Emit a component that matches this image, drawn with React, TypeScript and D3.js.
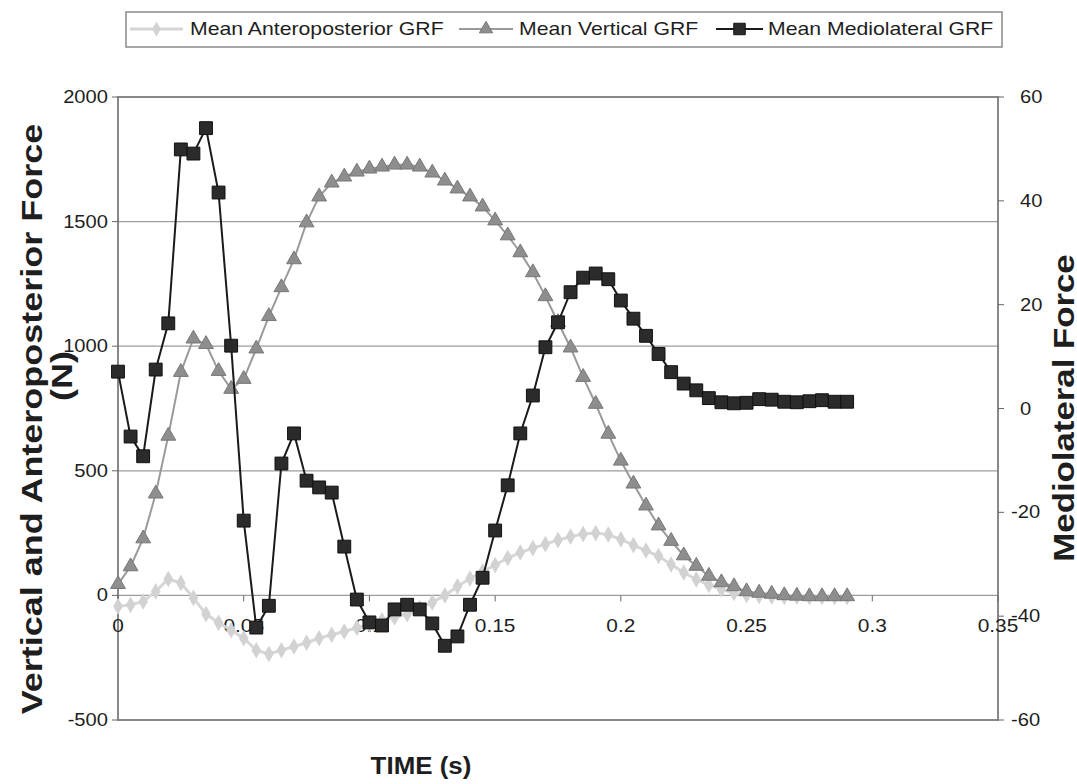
import React from 'react';
import * as d3 from 'd3';

// time samples (s)
const timeS = [
  0, 0.005, 0.01, 0.015, 0.02, 0.025, 0.03, 0.035, 0.04, 0.045,
  0.05, 0.055, 0.06, 0.065, 0.07, 0.075, 0.08, 0.085, 0.09, 0.095,
  0.1, 0.105, 0.11, 0.115, 0.12, 0.125, 0.13, 0.135, 0.14, 0.145,
  0.15, 0.155, 0.16, 0.165, 0.17, 0.175, 0.18, 0.185, 0.19, 0.195,
  0.2, 0.205, 0.21, 0.215, 0.22, 0.225, 0.23, 0.235, 0.24, 0.245,
  0.25, 0.255, 0.26, 0.265, 0.27, 0.275, 0.28, 0.285, 0.29,
];

// Mean Anteroposterior GRF (N), left axis
const anteroposterior = [
  -44, -38, -24, 16, 66, 50, -10, -75, -110, -140,
  -172, -220, -235, -220, -205, -190, -172, -158, -145, -130,
  -115, -100, -88, -75, -50, -28, 0, 36, 68, 96,
  122, 150, 172, 190, 206, 222, 236, 246, 250, 244,
  225, 202, 180, 158, 124, 92, 64, 42, 24, 10,
  2, -2, -4, -5, -5, -6, -6, -6, -6,
];

// Mean Vertical GRF (N), left axis
const vertical = [
  45, 116, 228, 408, 640, 896, 1030, 1008, 900, 828,
  868, 990, 1120, 1236, 1348, 1496, 1600, 1656, 1680, 1700,
  1712, 1720, 1728, 1728, 1720, 1696, 1664, 1632, 1600, 1560,
  1504, 1444, 1376, 1296, 1200, 1096, 994, 876, 768, 648,
  540, 448, 360, 280, 218, 160, 118, 78, 52, 36,
  16, 10, 6, 0, -2, -4, -4, -4, -4,
];

// Mean Mediolateral GRF, right axis
const mediolateral = [
  7.1, -5.4, -9.2, 7.5, 16.4, 49.9, 49.1, 54, 41.6, 12.1,
  -21.6, -42.2, -38, -10.6, -4.8, -13.9, -15.2, -16.2, -26.6, -36.8,
  -41.2, -41.8, -38.7, -37.8, -38.7, -41.4, -45.7, -43.9, -37.8, -32.6,
  -23.5, -14.8, -4.8, 2.5, 11.8, 16.6, 22.4, 25.2, 26, 24.9,
  20.8, 17.3, 14, 10.5, 7, 4.8, 3.5, 2, 1.2, 1,
  1.1, 1.8, 1.7, 1.3, 1.2, 1.4, 1.6, 1.3, 1.3,
];

const xTicks = [0, 0.05, 0.1, 0.15, 0.2, 0.25, 0.3, 0.35];
const xTickLabels = ['0', '0.05', '0.1', '0.15', '0.2', '0.25', '0.3', '0.35'];
const leftTicks = [-500, 0, 500, 1000, 1500, 2000];
const rightTicks = [-60, -40, -20, 0, 20, 40, 60];

const seriesNames = ['Mean Anteroposterior GRF', 'Mean Vertical GRF', 'Mean Mediolateral GRF'];

const W = 1077;
const H = 784;
const FONT = '"Liberation Sans", Arial, sans-serif';
const INK = '#1e1e1e';

const plot = { left: 118, right: 998, top: 97, bottom: 720 };

const x = d3.scaleLinear().domain([0, 0.35]).range([plot.left, plot.right]);
const yL = d3.scaleLinear().domain([-500, 2000]).range([plot.bottom, plot.top]);
const yR = d3.scaleLinear().domain([-60, 60]).range([plot.bottom, plot.top]);

const styles = [
  { line: '#d6d6d6', fill: '#d2d2d2', stroke: 'none', width: 3, sym: d3.symbolDiamond, size: 80 },
  { line: '#9a9a9a', fill: '#8e8e8e', stroke: '#777', width: 2, sym: d3.symbolTriangle, size: 95 },
  { line: '#1a1a1a', fill: '#2b2b2b', stroke: '#111', width: 2, sym: d3.symbolSquare, size: 165 },
];

// text that is a little wider than the font (the source chart's type runs wide)
function T({ x, y, size, sx = 1, anchor = 'start', rot = 0, bold = false, children }) {
  return (
    <text transform={`translate(${x},${y}) rotate(${rot}) scale(${sx},1)`} textAnchor={anchor}
      fontSize={size} fontWeight={bold ? 'bold' : 'normal'} fill={INK}>
      {children}
    </text>
  );
}

function Series({ values, scale, idx }) {
  const st = styles[idx];
  const line = d3.line<number>()
    .x((_, i) => x(timeS[i]))
    .y(d => scale(d));
  const sym = d3.symbol().type(st.sym).size(st.size)();
  return (
    <g>
      <path d={line(values) || ''} fill="none" stroke={st.line} strokeWidth={st.width} />
      {values.map((v, i) => (
        <path key={i} d={sym || ''} transform={`translate(${x(timeS[i])},${scale(v)})`}
          fill={st.fill} stroke={st.stroke} strokeWidth={1} />
      ))}
    </g>
  );
}

function LegendItem({ idx, x0, x1, tx, label }) {
  const st = styles[idx];
  const sym = d3.symbol().type(st.sym).size(st.size * 0.8)();
  const cy = 29;
  return (
    <g>
      <line x1={x0} x2={x1} y1={cy} y2={cy} stroke={st.line} strokeWidth={st.width} />
      <path d={sym || ''} transform={`translate(${(x0 + x1) / 2},${cy})`} fill={st.fill} stroke={st.stroke} />
      <T x={tx} y={cy + 6} size={18} sx={1.18}>{label}</T>
    </g>
  );
}

export default function App() {
  return (
    <svg width={W} height={H} style={{ position: 'absolute', left: 0, top: 0, background: '#fff' }}
      fontFamily={FONT}>
      <rect x={0} y={0} width={W} height={H} fill="#fff" />

      {/* legend */}
      <rect x={126} y={12} width={876} height={35} fill="#fff" stroke="#8a8a8a" strokeWidth={1.5} />
      <LegendItem idx={0} x0={130} x1={183} tx={190} label={seriesNames[0]} />
      <LegendItem idx={1} x0={459} x1={513} tx={519} label={seriesNames[1]} />
      <LegendItem idx={2} x0={716} x1={763} tx={768} label={seriesNames[2]} />

      {/* gridlines */}
      {leftTicks.filter(t => t > -500 && t < 2000).map(t => (
        <line key={t} x1={plot.left} x2={plot.right} y1={yL(t)} y2={yL(t)} stroke="#9c9c9c" strokeWidth={1.2} />
      ))}

      {/* plot frame */}
      <rect x={plot.left} y={plot.top} width={plot.right - plot.left} height={plot.bottom - plot.top}
        fill="none" stroke="#7c7c7c" strokeWidth={1.8} />

      {/* left axis */}
      {leftTicks.map(t => (
        <g key={t}>
          <line x1={plot.left - 6} x2={plot.left} y1={yL(t)} y2={yL(t)} stroke="#666" />
          <T x={plot.left - 10} y={yL(t) + 6} size={18} sx={1.12} anchor="end">{t}</T>
        </g>
      ))}

      {/* right axis */}
      {rightTicks.map(t => (
        <g key={t}>
          <line x1={plot.right} x2={plot.right + 6} y1={yR(t)} y2={yR(t)} stroke="#666" />
          <T x={t < 0 ? plot.right + 13 : plot.right + 22} y={yR(t) + 6} size={18} sx={1.12}>{t}</T>
        </g>
      ))}

      {/* x axis along zero */}
      {xTicks.map((t, i) => (
        <g key={t}>
          <line x1={x(t)} x2={x(t)} y1={yL(0)} y2={yL(0) + 6} stroke="#666" />
          <T x={x(t)} y={yL(0) + 37} size={18} sx={1.16} anchor="middle">{xTickLabels[i]}</T>
        </g>
      ))}

      <Series values={anteroposterior} scale={yL} idx={0} />
      <Series values={vertical} scale={yL} idx={1} />
      <Series values={mediolateral} scale={yR} idx={2} />

      {/* axis titles */}
      <T x={42} y={419} rot={-90} size={30} sx={1.2} anchor="middle" bold>Vertical and Anteroposterior Force</T>
      <T x={72} y={376} rot={-90} size={30} sx={1.2} anchor="middle" bold>(N)</T>
      <T x={1074} y={408} rot={-90} size={29} sx={1.2} anchor="middle" bold>Mediolateral Force</T>
      <T x={421} y={774} size={24} sx={1.08} anchor="middle" bold>TIME (s)</T>
    </svg>
  );
}
